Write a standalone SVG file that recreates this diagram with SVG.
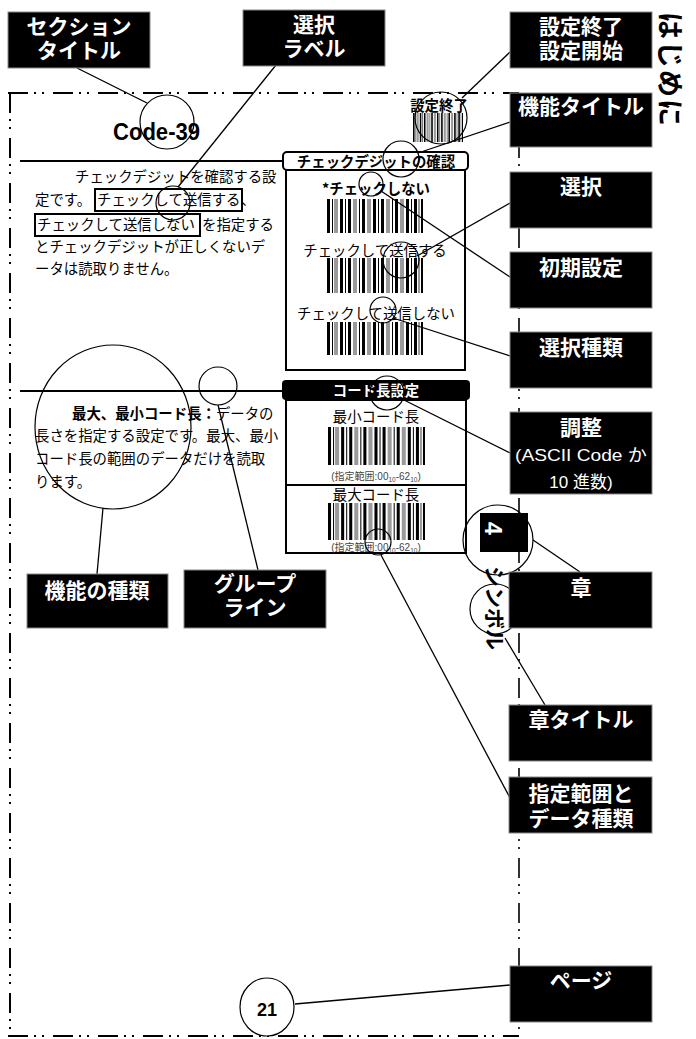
<svg xmlns="http://www.w3.org/2000/svg" xmlns:xlink="http://www.w3.org/1999/xlink" width="696" height="1039" viewBox="0 0 696 1039">
<style>
.box{fill:#000;stroke:#888;stroke-width:1}
.lbl{fill:#fff;font-family:'Noto Sans CJK JP',sans-serif;font-weight:bold;font-size:21px;text-anchor:middle}
.lat{font-family:'Liberation Sans','Noto Sans CJK JP',sans-serif;font-weight:normal;font-size:17px}
.body{font-family:'Noto Sans CJK JP',sans-serif;font-size:14.4px;fill:#000}
.mid{text-anchor:middle}
.bd{font-weight:bold}
.c{fill:none;stroke:#000;stroke-width:1.2}
.ln{stroke:#000;stroke-width:1.3;fill:none}
.border{stroke:#000;stroke-width:2;fill:none;stroke-dasharray:20 6 2 6 2 9}
.rng{font-family:'Liberation Sans','Noto Sans CJK JP',sans-serif;font-size:10px;fill:#444;text-anchor:middle}
</style>
<defs>
<symbol id="bc" viewBox="0 0 96 10" preserveAspectRatio="none">
<path fill="#000" d="M0 0h3v10h-3zM5 0h1v10h-1zM13 0h3v10h-3zM18 0h1v10h-1zM21 0h3v10h-3zM32 0h1v10h-1zM35 0h3v10h-3zM46 0h3v10h-3zM51 0h1v10h-1zM54 0h3v10h-3zM65 0h1v10h-1zM68 0h3v10h-3zM79 0h3v10h-3zM84 0h1v10h-1zM87 0h3v10h-3zM94 0h2v10h-2z"/>
<path fill="#9a9a9a" d="M7 0h4v10h-4zM26 0h4v10h-4zM40 0h4v10h-4zM59 0h4v10h-4zM73 0h4v10h-4zM91 0h2v10h-2z"/>
</symbol>
</defs>
<rect width="696" height="1039" fill="#fff"/>

<g id="page">
<path class="border" d="M8 93H519"/>
<path class="border" d="M10 93V1037"/>
<path class="border" d="M8 1036H519"/>
<path class="border" d="M519 93V1037" style="stroke-width:1.6"/>
<text x="113" y="140" font-family="'Liberation Sans',Arial,sans-serif" font-weight="bold" font-size="24" textLength="87" lengthAdjust="spacingAndGlyphs">Code-39</text>
<text transform="translate(660,12) rotate(90)" font-family="'Noto Sans CJK JP',sans-serif" font-weight="bold" font-size="27" letter-spacing="2">はじめに</text>
</g>

<g id="group-check">
<path d="M20 161H283" stroke="#000" stroke-width="2"/>
<rect x="286" y="170" width="179" height="200" fill="#fff" stroke="#000" stroke-width="2"/>
<rect x="283" y="152" width="185" height="18" rx="4" fill="#fff" stroke="#000" stroke-width="2"/>
<text class="body bd mid" x="376" y="167" font-size="14.7">チェックデジットの確認</text>
<text class="body bd mid" x="376" y="194" font-size="14.7">*チェックしない</text>
<use xlink:href="#bc" x="327" y="199" width="96" height="34"/>
<text class="body mid" x="375" y="256">チェックして送信する</text>
<use xlink:href="#bc" x="327" y="258" width="96" height="35"/>
<text class="body mid" x="376" y="319">チェックして送信しない</text>
<use xlink:href="#bc" x="327" y="322" width="96" height="33"/>
<text class="body" x="75" y="182">チェックデジットを確認する設</text>
<text class="body" x="35" y="205">定です。</text>
<rect x="95" y="189" width="147" height="22" fill="none" stroke="#000" stroke-width="2"/>
<text class="body" x="97" y="205">チェックして送信する</text>
<text class="body" x="241" y="205">、</text>
<rect x="35" y="214" width="165" height="22" fill="none" stroke="#000" stroke-width="2"/>
<text class="body" x="37" y="230">チェックして送信しない</text>
<text class="body" x="202" y="230">を指定する</text>
<text class="body" x="35" y="252">とチェックデジットが正しくないデ</text>
<text class="body" x="35" y="274">ータは読取りません。</text>
</g>

<g id="group-length">
<path d="M20 391H282" stroke="#000" stroke-width="2"/>
<rect x="286" y="400" width="180" height="153" fill="#fff" stroke="#000" stroke-width="2"/>
<path d="M286 485H466" stroke="#000" stroke-width="2"/>
<rect x="282" y="380" width="188" height="20" rx="4" fill="#000"/>
<text class="body bd mid" x="376" y="396" style="fill:#fff">コード長設定</text>
<text class="body mid" x="376" y="422">最小コード長</text>
<use xlink:href="#bc" x="328" y="427" width="97" height="38"/>
<text class="rng" x="376" y="480">(指定範囲:00<tspan font-size="6.5" dy="1.5">10</tspan><tspan dy="-1.5">-62</tspan><tspan font-size="6.5" dy="1.5">10</tspan><tspan dy="-1.5">)</tspan></text>
<text class="body mid" x="376" y="500">最大コード長</text>
<use xlink:href="#bc" x="328" y="503" width="97" height="37"/>
<text class="rng" x="376" y="551">(指定範囲:00<tspan font-size="6.5" dy="1.5">10</tspan><tspan dy="-1.5">-62</tspan><tspan font-size="6.5" dy="1.5">10</tspan><tspan dy="-1.5">)</tspan></text>
<text class="body" x="72" y="419"><tspan font-weight="bold">最大、最小コード長：</tspan>データの</text>
<text class="body" x="35" y="441">長さを指定する設定です。最大、最小</text>
<text class="body" x="35" y="464">コード長の範囲のデータだけを読取</text>
<text class="body" x="35" y="487">ります。</text>
</g>

<g id="end-barcode">
<text class="body bd mid" x="439" y="111" font-size="14">設定終了</text>
<use xlink:href="#bc" x="413" y="113" width="50" height="29"/>
</g>

<g id="chapter">
<rect x="480" y="513" width="48" height="39" fill="#000"/>
<text transform="translate(485,522) rotate(90)" font-family="'Liberation Sans',Arial,sans-serif" font-weight="bold" font-size="23" fill="#fff">4</text>
<text transform="translate(487,566) rotate(90)" font-family="'Noto Sans CJK JP',sans-serif" font-weight="bold" font-size="21">シンボル</text>
</g>

<g id="connectors">
<path class="ln" d="M77 68L147 103"/>
<path class="ln" d="M276 65L178 187"/>
<path class="ln" d="M510 52L462 98"/>
<path class="ln" d="M510 122L418 153"/>
<path class="ln" d="M510 203L417 256"/>
<path class="ln" d="M510 277L381 191"/>
<path class="ln" d="M510 356L393 318"/>
<path class="ln" d="M510 453L404 400"/>
<path class="ln" d="M533 540L580 572"/>
<path class="ln" d="M505 638L545 705"/>
<path class="ln" d="M381 555L510 798"/>
<path class="ln" d="M295 1004L510 985"/>
<path class="ln" d="M218 405L258 570"/>
<path class="ln" d="M103 508L97 574"/>
<circle class="c" cx="167" cy="122" r="27"/>
<circle class="c" cx="173" cy="203" r="17"/>
<circle class="c" cx="441" cy="118" r="26"/>
<circle class="c" cx="401" cy="159" r="18"/>
<circle class="c" cx="371" cy="184" r="12"/>
<circle class="c" cx="401" cy="260" r="18"/>
<circle class="c" cx="383" cy="310" r="13"/>
<circle class="c" cx="387" cy="393" r="17"/>
<circle class="c" cx="378" cy="542" r="13"/>
<circle class="c" cx="218" cy="386" r="19"/>
<ellipse class="c" cx="113" cy="427" rx="78" ry="82"/>
<circle class="c" cx="498" cy="540" r="35"/>
<circle class="c" cx="495" cy="609" r="25"/>
<ellipse class="c" cx="267" cy="1007" rx="27" ry="29" style="fill:#fff"/>
</g>

<g id="page-number">
<text x="267" y="1016" font-family="'Liberation Sans',Arial,sans-serif" font-weight="bold" font-size="18" text-anchor="middle">21</text>
</g>

<g id="label-section-title"><rect class="box" x="8" y="12" width="142" height="56"/><text class="lbl" x="79" y="34">セクション</text><text class="lbl" x="79" y="58">タイトル</text></g>
<g id="label-select-label"><rect class="box" x="243" y="10" width="142" height="56"/><text class="lbl" x="314" y="32">選択</text><text class="lbl" x="314" y="56">ラベル</text></g>
<g id="label-end-start"><rect class="box" x="510" y="12" width="142" height="56"/><text class="lbl" x="581" y="34">設定終了</text><text class="lbl" x="581" y="58">設定開始</text></g>
<g id="label-func-title"><rect class="box" x="510" y="93" width="142" height="54"/><text class="lbl" x="581" y="114">機能タイトル</text></g>
<g id="label-select"><rect class="box" x="510" y="172" width="142" height="56"/><text class="lbl" x="581" y="194">選択</text></g>
<g id="label-default"><rect class="box" x="510" y="252" width="142" height="56"/><text class="lbl" x="581" y="275">初期設定</text></g>
<g id="label-select-type"><rect class="box" x="510" y="332" width="142" height="56"/><text class="lbl" x="581" y="355">選択種類</text></g>
<g id="label-adjust"><rect class="box" x="510" y="412" width="142" height="82"/><text class="lbl" x="581" y="435">調整</text><text class="lbl lat" x="581" y="461" textLength="132" lengthAdjust="spacingAndGlyphs">(ASCII Code か</text><text class="lbl lat" x="581" y="488">10 進数)</text></g>
<g id="label-chapter"><rect class="box" x="509" y="572" width="143" height="56"/><text class="lbl" x="581" y="595">章</text></g>
<g id="label-chapter-title"><rect class="box" x="509" y="705" width="143" height="56"/><text class="lbl" x="581" y="727">章タイトル</text></g>
<g id="label-range"><rect class="box" x="509" y="777" width="143" height="56"/><text class="lbl" x="581" y="801">指定範囲と</text><text class="lbl" x="581" y="826">データ種類</text></g>
<g id="label-page"><rect class="box" x="510" y="966" width="142" height="56"/><text class="lbl" x="581" y="988">ページ</text></g>
<g id="label-func-kind"><rect class="box" x="27" y="574" width="141" height="54"/><text class="lbl" x="97" y="598">機能の種類</text></g>
<g id="label-group-line"><rect class="box" x="184" y="570" width="142" height="58"/><text class="lbl" x="255" y="591">グループ</text><text class="lbl" x="255" y="615">ライン</text></g>
</svg>
